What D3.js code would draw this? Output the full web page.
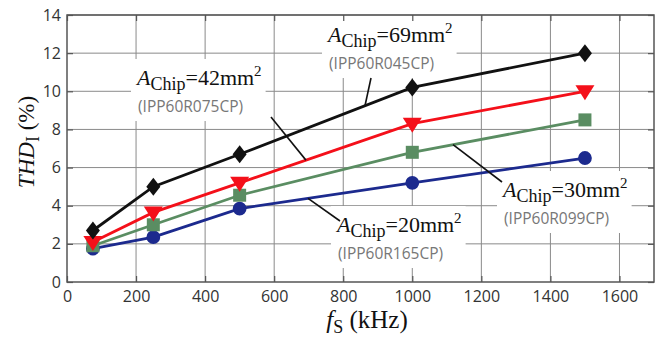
<!DOCTYPE html>
<html><head><meta charset="utf-8">
<script src="https://cdn.jsdelivr.net/npm/d3@7"></script>
<style>body{margin:0;background:#fff} .serif, .serif tspan{font-family:"Liberation Serif","Times New Roman",serif}</style>
</head><body><div id="chart"></div>
<script>
// switching frequency (kHz) and THD of the current (%)
var freq = [75, 250, 500, 1000, 1500];
var thd69 = [2.7, 5.0, 6.7, 10.2, 12.0];
var thd42 = [2.1, 3.65, 5.2, 8.3, 10.0];
var thd30 = [1.9, 3.0, 4.55, 6.8, 8.5];
var thd20 = [1.75, 2.35, 3.85, 5.2, 6.5];
var chipArea = ["69", "42", "30", "20"];
var partNo = ["IPP60R045CP", "IPP60R075CP", "IPP60R099CP", "IPP60R165CP"];
var xTicks = [0, 200, 400, 600, 800, 1000, 1200, 1400, 1600];
var yTicks = [0, 2, 4, 6, 8, 10, 12, 14];

var w = 669, h = 339;
var svg = d3.select("#chart").append("svg")
    .attr("width", w).attr("height", h);

var x = d3.scaleLinear().domain([0, 1700]).range([67, 654]);
var y = d3.scaleLinear().domain([0, 14]).range([282, 15]);

var series = [
  {name: chipArea[0], part: partNo[0], vals: thd69, color: "#111", shape: "diamond"},
  {name: chipArea[1], part: partNo[1], vals: thd42, color: "#f4101a", shape: "tri"},
  {name: chipArea[2], part: partNo[2], vals: thd30, color: "#5a8d62", shape: "square"},
  {name: chipArea[3], part: partNo[3], vals: thd20, color: "#1c2a8e", shape: "circle"}
];

// grid
var grid = svg.append("g");
grid.selectAll(".vx").data(xTicks.slice(1)).enter().append("line")
    .attr("x1", d => x(d)).attr("x2", d => x(d))
    .attr("y1", y(14)).attr("y2", y(0))
    .attr("stroke", "#8a8a8a").attr("stroke-width", 1);
grid.selectAll(".hy").data(yTicks.slice(1)).enter().append("line")
    .attr("x1", x(0)).attr("x2", x(1700))
    .attr("y1", d => y(d)).attr("y2", d => y(d))
    .attr("stroke", "#8a8a8a").attr("stroke-width", 1);

// white boxes behind labels go here
var boxLayer = svg.append("g");

// frame and inner ticks
svg.append("rect")
    .attr("x", x(0)).attr("y", y(14))
    .attr("width", x(1700) - x(0)).attr("height", y(0) - y(14))
    .attr("fill", "none").attr("stroke", "#555").attr("stroke-width", 1.5);

svg.append("g").attr("transform", "translate(0," + y(0) + ")")
    .call(d3.axisBottom(x).tickValues(xTicks).tickSize(-6).tickPadding(9).tickFormat(d3.format("d")));
svg.append("g").attr("transform", "translate(" + x(0) + ",0)")
    .call(d3.axisLeft(y).tickValues(yTicks).tickSize(-6).tickPadding(6));
svg.append("g").attr("transform", "translate(" + x(1700) + ",0)")
    .call(d3.axisRight(y).tickValues(yTicks).tickSize(-6).tickFormat(""));
svg.append("g").attr("transform", "translate(0," + y(14) + ")")
    .call(d3.axisTop(x).tickValues(xTicks).tickSize(-6).tickFormat(""));
svg.selectAll(".domain").remove();
svg.selectAll(".tick line").attr("stroke", "#555").attr("stroke-width", 1.2);
svg.selectAll(".tick text")
    .attr("font-family", "Open Sans, sans-serif")
    .attr("font-size", 16).attr("fill", "#333");

// series lines
var line = d3.line().x((d, i) => x(freq[i])).y(d => y(d));
series.slice().reverse().forEach(function(s) {
  svg.append("path").datum(s.vals)
      .attr("d", line)
      .attr("fill", "none").attr("stroke", s.color).attr("stroke-width", 2.8);
});

// markers
function marker(shape) {
  if (shape === "diamond") return "M0,-9L7,0L0,9L-7,0Z";
  if (shape === "tri") return "M-9.5,-6L9.5,-6L0,9Z";
  if (shape === "square") return "M-6.5,-6.5H6.5V6.5H-6.5Z";
  return d3.symbol().type(d3.symbolCircle).size(150)();
}
series.slice().reverse().forEach(function(s) {
  svg.append("g").selectAll("path").data(s.vals).enter().append("path")
      .attr("transform", (d, i) => "translate(" + x(freq[i]) + "," + y(d) + ")")
      .attr("d", marker(s.shape))
      .attr("fill", s.color);
});

// annotations: attach point on a series (fs value), label position in px
var notes = [
  {s: 0, fs: 863, ex: 371, ey: 78, tx: 328, ty: 42},
  {s: 1, fs: 692, ex: 271, ey: 117, tx: 137, ty: 85},
  {s: 2, fs: 1118, ex: 502, ey: 182, tx: 503, ty: 197},
  {s: 3, fs: 698, ex: 340, ey: 221, tx: 337, ty: 232}
];
function interp(vals, f) {
  return d3.scaleLinear().domain(freq).range(vals)(f);
}
notes.forEach(function(n) {
  var s = series[n.s];
  var g = svg.append("g");
  var t = g.append("text").attr("class", "serif")
      .attr("x", n.tx).attr("y", n.ty)
      .attr("font-size", 22).attr("fill", "#111");
  t.append("tspan").attr("font-style", "italic").text("A");
  t.append("tspan").attr("font-size", 18).attr("dy", 5).text("Chip");
  t.append("tspan").attr("dy", -5).text("=" + s.name + "mm");
  t.append("tspan").attr("font-size", 15).attr("dy", -9).text("2");
  g.append("text")
      .attr("x", n.tx + 1).attr("y", n.ty + 27)
      .attr("font-family", "Open Sans, sans-serif")
      .attr("font-size", 15.5).attr("fill", "#777")
      .text("(" + s.part + ")");
  var bb = g.node().getBBox();
  boxLayer.append("rect")
      .attr("x", bb.x - 4).attr("y", bb.y - 4)
      .attr("width", bb.width + 8).attr("height", bb.height + 8)
      .attr("fill", "#fff");
  svg.append("line")
      .attr("x1", x(n.fs)).attr("y1", y(interp(s.vals, n.fs)))
      .attr("x2", n.ex).attr("y2", n.ey)
      .attr("stroke", "#111").attr("stroke-width", 1.6);
});

// axis titles
var yt = svg.append("text").attr("class", "serif")
    .attr("transform", "translate(34,142) rotate(-90)")
    .attr("text-anchor", "middle")
    .attr("font-size", 23).attr("fill", "#111");
yt.append("tspan").attr("font-style", "italic").text("THD");
yt.append("tspan").attr("font-size", 18).attr("dy", 5).text("I");
yt.append("tspan").attr("dy", -5).text(" (%)");

var xt = svg.append("text").attr("class", "serif")
    .attr("x", 367).attr("y", 328)
    .attr("text-anchor", "middle")
    .attr("font-size", 25).attr("fill", "#111");
xt.append("tspan").attr("font-style", "italic").text("f");
xt.append("tspan").attr("font-size", 18).attr("dy", 5).text("S");
xt.append("tspan").attr("dy", -5).text(" (kHz)");
</script>
</body></html>
